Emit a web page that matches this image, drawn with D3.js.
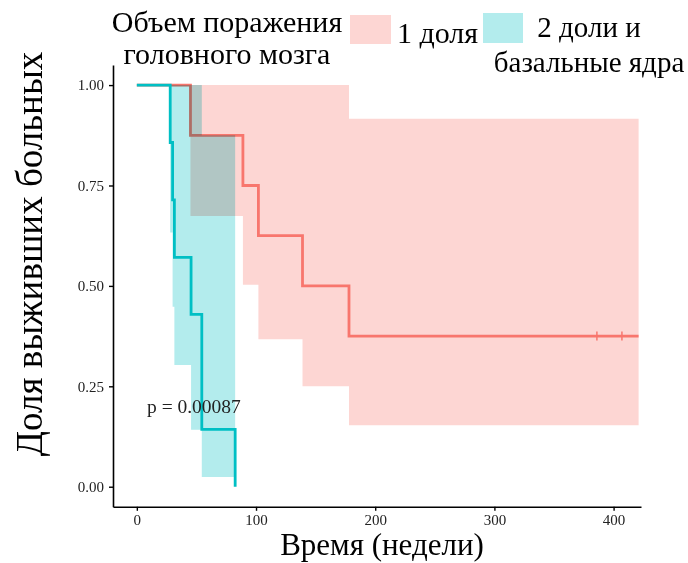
<!DOCTYPE html>
<html>
<head>
<meta charset="utf-8">
<script src="https://cdn.jsdelivr.net/npm/d3@7"></script>
<style>
  body { margin: 0; background: #fff; }
  text { font-family: "Liberation Serif", "Times New Roman", serif; }
</style>
</head>
<body>
<div id="chart"></div>
<script>
// Group "1 доля" (survival steps, 95% CI)
const redTime  = [0, 45, 89, 102, 139, 178];
const redSurv  = [1, 0.875, 0.75, 0.625, 0.5, 0.375];
const redUpper = [1, 1, 1, 1, 1, 0.916];
const redLower = [1, 0.674, 0.503, 0.367, 0.25, 0.153];
const redEnd = 421;
const redCensor = [386, 407];

// Group "2 доли и базальные ядра"
const tealTime  = [0, 28, 30, 31.5, 45.5, 54.5, 82.5];
const tealSurv  = [1, 0.857, 0.714, 0.571, 0.429, 0.143, 0];
const tealUpper = [1, 1, 1, 1, 1, 0.875, 0];
const tealLower = [1, 0.633, 0.448, 0.303, 0.142, 0.024, 0];

const xTicks = [0, 100, 200, 300, 400];
const yTicks = [0, 0.25, 0.5, 0.75, 1];

const legendTitle = ["Объем поражения", "головного мозга"];
const groupLabels = [["1 доля"], ["2 доли и", "базальные ядра"]];
const pValue = "p = 0.00087";

var width = 688, height = 563;

var svg = d3.select("#chart").append("svg")
    .attr("width", width)
    .attr("height", height);

// Scales
var x = d3.scaleLinear().domain([-20, 423]).range([113, 641]);
var y = d3.scaleLinear().domain([-0.05, 1.05]).range([506.8, 65]);

function steps(time, surv, lower, upper, end) {
    var pts = time.map(function (t, i) {
        return { t: t, s: surv[i], lo: lower[i], hi: upper[i] };
    });
    if (end !== undefined) {
        var last = pts[pts.length - 1];
        pts.push({ t: end, s: last.s, lo: last.lo, hi: last.hi });
    }
    return pts;
}

var red = steps(redTime, redSurv, redLower, redUpper, redEnd);
var teal = steps(tealTime, tealSurv, tealLower, tealUpper);

var band = d3.area()
    .curve(d3.curveStepAfter)
    .x(d => x(d.t))
    .y0(d => y(d.lo))
    .y1(d => y(d.hi));

var line = d3.line()
    .curve(d3.curveStepAfter)
    .x(d => x(d.t))
    .y(d => y(d.s));

// Red band + curve
svg.append("path")
    .datum(red)
    .attr("d", band)
    .attr("fill", "#FDD6D3");

svg.append("path")
    .datum(red)
    .attr("d", line)
    .attr("fill", "none")
    .attr("stroke", "#F8766D")
    .attr("stroke-width", 2.8);

svg.selectAll(".censor")
    .data(redCensor)
    .enter().append("line")
    .attr("class", "censor")
    .attr("x1", d => x(d)).attr("x2", d => x(d))
    .attr("y1", y(redSurv[redSurv.length - 1]) - 4.5)
    .attr("y2", y(redSurv[redSurv.length - 1]) + 4.5)
    .attr("stroke", "#F8766D")
    .attr("stroke-width", 1.5);

// Teal band (multiplied over red) + curve
svg.append("path")
    .datum(teal)
    .attr("d", band)
    .attr("fill", "#B3ECED")
    .style("mix-blend-mode", "multiply");

svg.append("path")
    .datum(teal)
    .attr("d", line)
    .attr("fill", "none")
    .attr("stroke", "#00BFC4")
    .attr("stroke-width", 2.8);

// Axes
var xAxis = svg.append("g")
    .attr("transform", "translate(0," + 506.8 + ")")
    .call(d3.axisBottom(x).tickValues(xTicks).tickSize(4).tickSizeOuter(0).tickPadding(4));

var yAxis = svg.append("g")
    .attr("transform", "translate(" + 113 + ",0)")
    .call(d3.axisLeft(y).tickValues(yTicks).tickFormat(d3.format(".2f")).tickSize(4).tickSizeOuter(0).tickPadding(5));

[xAxis, yAxis].forEach(function (g) {
    g.select(".domain").attr("stroke", "#000").attr("stroke-width", 1.6);
    g.selectAll(".tick line").attr("stroke", "#000").attr("stroke-width", 1.4);
    g.selectAll(".tick text")
        .attr("fill", "#222")
        .style("font-family", "'Liberation Serif', serif")
        .style("font-size", "15px");
});

// p-value
svg.append("text")
    .attr("x", 147)
    .attr("y", 413)
    .style("font-size", "19.5px")
    .attr("fill", "#222")
    .text(pValue);

// Axis titles
svg.append("text")
    .attr("transform", "translate(42,254) rotate(-90)")
    .style("text-anchor", "middle")
    .style("font-size", "37px")
    .text("Доля выживших больных");

svg.append("text")
    .attr("x", 382)
    .attr("y", 555)
    .style("text-anchor", "middle")
    .style("font-size", "31px")
    .text("Время (недели)");

// Legend
var legend = svg.append("g").attr("class", "legend");

legend.selectAll(".ltitle")
    .data(legendTitle)
    .enter().append("text")
    .attr("x", 227)
    .attr("y", (d, i) => 32 + i * 32)
    .style("text-anchor", "middle")
    .style("font-size", "30px")
    .text(d => d);

legend.append("rect")
    .attr("x", 350).attr("y", 15)
    .attr("width", 41).attr("height", 29)
    .attr("fill", "#FDD6D3");

legend.append("text")
    .attr("x", 397).attr("y", 43)
    .style("font-size", "30px")
    .text(groupLabels[0][0]);

legend.append("rect")
    .attr("x", 483).attr("y", 13)
    .attr("width", 40).attr("height", 30)
    .attr("fill", "#B3ECED");

legend.selectAll(".l2")
    .data(groupLabels[1])
    .enter().append("text")
    .attr("x", 589)
    .attr("y", (d, i) => 37 + i * 35)
    .style("text-anchor", "middle")
    .style("font-size", "29px")
    .text(d => d);
</script>
</body>
</html>
